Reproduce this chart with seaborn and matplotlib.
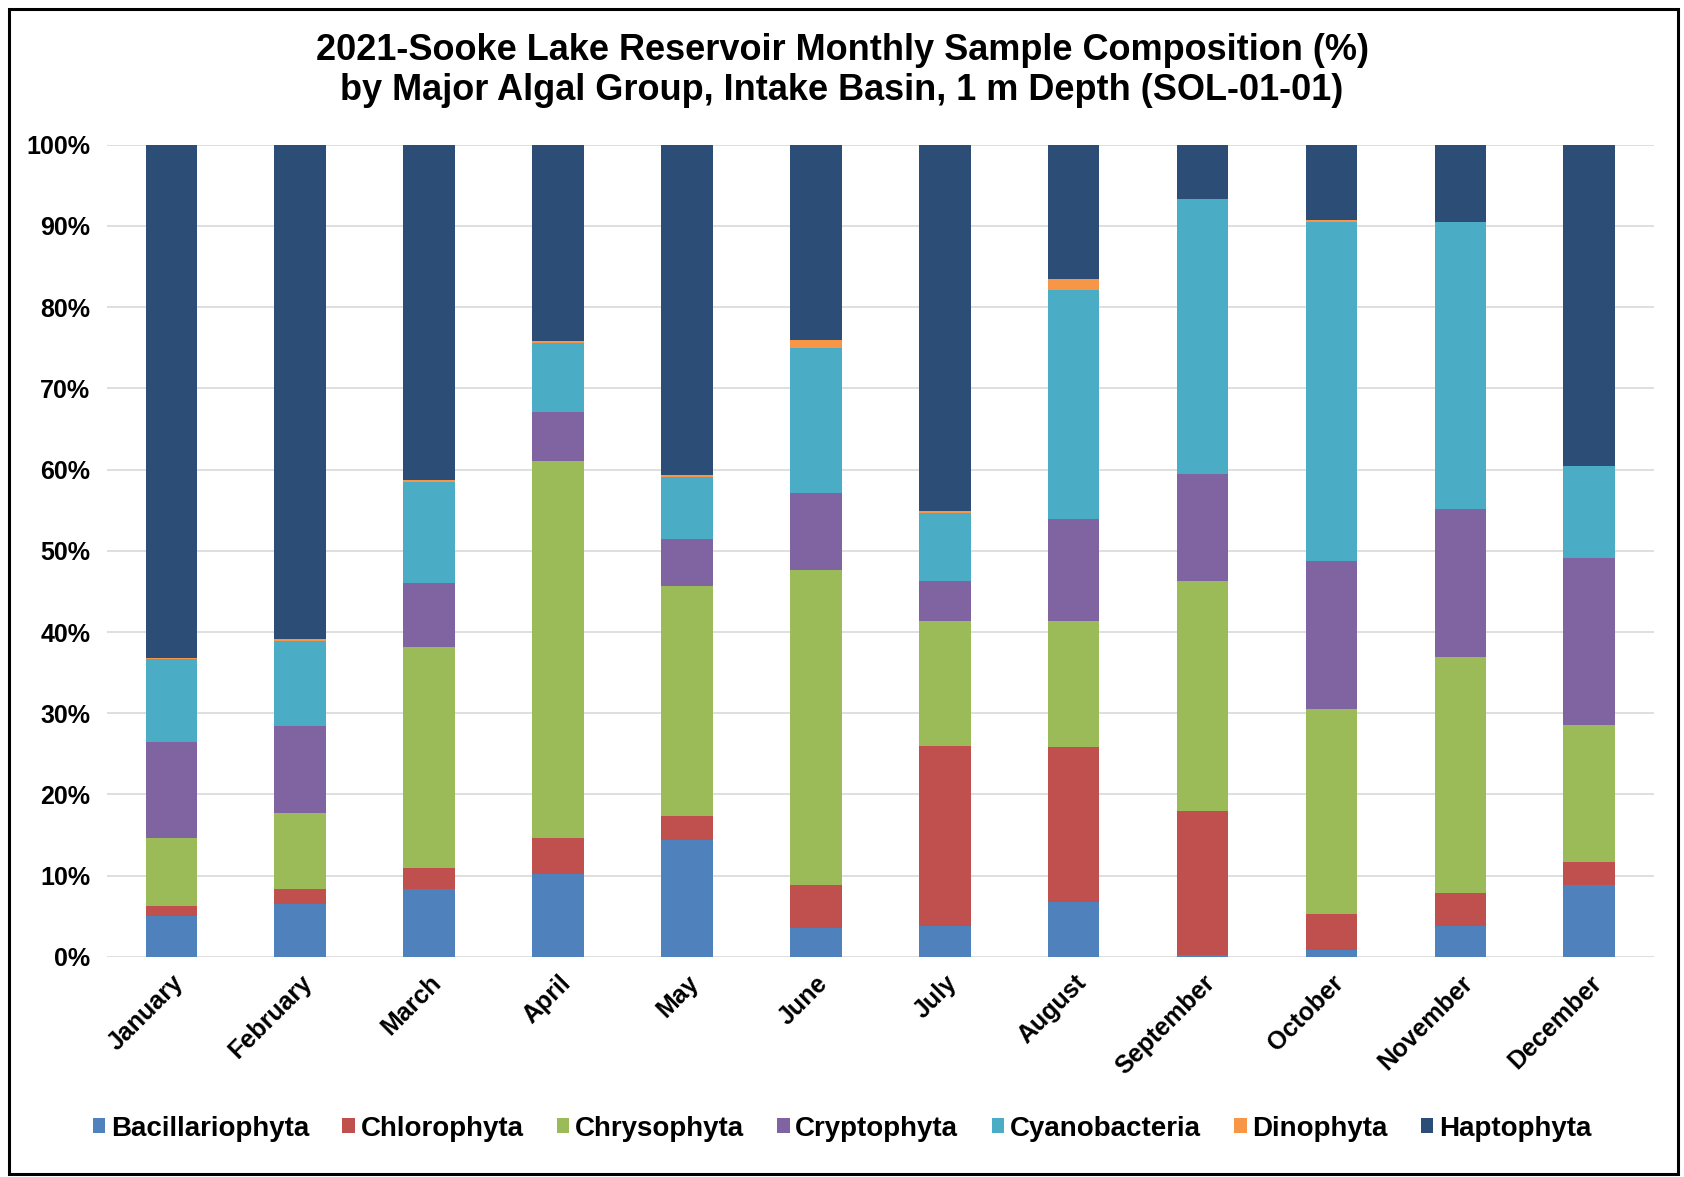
import numpy as np
import pandas as pd
import matplotlib.pyplot as plt
import seaborn as sns
from matplotlib.patches import Patch, Rectangle
from matplotlib.ticker import PercentFormatter

sns.set_theme(style="whitegrid")
plt.rcParams['font.family'] = ['Liberation Sans', 'DejaVu Sans']
plt.rcParams['font.weight'] = 'bold'
plt.rcParams['text.color'] = 'black'
plt.rcParams['xtick.color'] = 'black'
plt.rcParams['ytick.color'] = 'black'

months = ["January", "February", "March", "April", "May", "June", "July",
          "August", "September", "October", "November", "December"]
groups = ["Bacillariophyta", "Chlorophyta", "Chrysophyta", "Cryptophyta",
          "Cyanobacteria", "Dinophyta", "Haptophyta"]

# percent of sample
bacillariophyta = [5.0, 6.5, 8.3, 10.2, 14.4, 3.6, 3.8, 6.7, 0.2, 0.9, 3.8, 8.9]
chlorophyta = [1.3, 1.9, 2.6, 4.4, 3.0, 5.3, 22.2, 19.1, 17.8, 4.4, 4.1, 2.8]
chrysophyta = [8.3, 9.3, 27.2, 46.5, 28.3, 38.7, 15.3, 15.5, 28.3, 25.2, 29.0, 16.8]
cryptophyta = [11.8, 10.7, 7.9, 6.0, 5.8, 9.5, 5.0, 12.6, 13.2, 18.3, 18.2, 20.6]
cyanobacteria = [10.3, 10.5, 12.5, 8.5, 7.6, 17.9, 8.3, 28.2, 33.8, 41.7, 35.4, 11.4]
dinophyta = [0.1, 0.2, 0.2, 0.2, 0.2, 0.9, 0.3, 1.4, 0.0, 0.2, 0.0, 0.0]
haptophyta = [63.2, 60.9, 41.3, 24.2, 40.7, 24.1, 45.1, 16.5, 6.7, 9.3, 9.5, 39.5]

colors = ["#4F81BD", "#C0504D", "#9BBB59", "#8064A2", "#4BACC6", "#F79646", "#2C4D75"]

df = pd.DataFrame({"month": months, "Bacillariophyta": bacillariophyta,
                   "Chlorophyta": chlorophyta, "Chrysophyta": chrysophyta,
                   "Cryptophyta": cryptophyta, "Cyanobacteria": cyanobacteria,
                   "Dinophyta": dinophyta, "Haptophyta": haptophyta})
cum = df[groups].cumsum(axis=1) / 100.0
cum["month"] = months

fig = plt.figure(figsize=(16.84, 11.77), dpi=100)
ax = fig.add_axes([0.0635, 0.187, 0.9185, 0.69])

# stacked bars: draw cumulative totals from the top group down
for g, c in reversed(list(zip(groups, colors))):
    sns.barplot(data=cum, x="month", y=g, order=months, color=c,
                width=0.4, saturation=1, edgecolor="none", linewidth=0, ax=ax)

ax.set_ylim(0, 1)
ax.set_xlim(-0.5, 11.5)
ax.set_yticks(np.arange(0, 1.01, 0.1))
ax.yaxis.set_major_formatter(PercentFormatter(1.0, decimals=0))
ax.set_xlabel("")
ax.set_ylabel("")
ax.grid(axis="y", color="#D9D9D9", linewidth=1.2)
ax.grid(axis="x", visible=False)
ax.set_axisbelow(True)
for s in ax.spines.values():
    s.set_visible(False)
ax.tick_params(axis="both", length=0, labelsize=18)
ax.tick_params(axis="y", pad=12)
ax.tick_params(axis="x", pad=10)
for lbl in ax.get_xticklabels():
    lbl.set_rotation(45)
    lbl.set_ha("right")
    lbl.set_rotation_mode("anchor")
    lbl.set_fontweight("bold")
for lbl in ax.get_yticklabels():
    lbl.set_fontweight("bold")

fig.suptitle("2021-Sooke Lake Reservoir Monthly Sample Composition (%)\n"
             "by Major Algal Group, Intake Basin, 1 m Depth (SOL-01-01)",
             x=0.5, y=0.972, fontsize=26, fontweight="bold", linespacing=1.2)

handles = [Patch(facecolor=c, edgecolor="none", label=g) for g, c in zip(groups, colors)]
fig.legend(handles=handles, loc="center", bbox_to_anchor=(0.5, 0.041), ncol=7,
           frameon=False, prop={"size": 20, "weight": "bold"},
           handlelength=0.45, handleheight=0.45, handletextpad=0.2, columnspacing=1.2)

fig.patches.append(Rectangle((0.0053, 0.0025), 0.991, 0.9895, transform=fig.transFigure,
                             fill=False, edgecolor="black", linewidth=2.2))

fig.savefig("out.png", dpi=100)
